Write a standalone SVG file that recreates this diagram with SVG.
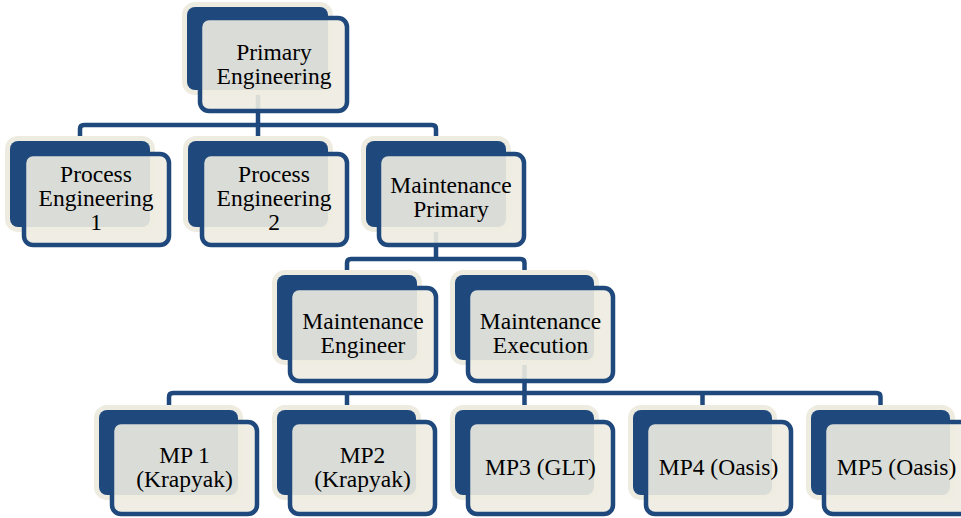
<svg xmlns="http://www.w3.org/2000/svg" width="961" height="518" viewBox="0 0 961 518">
  <style>
    .back { fill: #1F497D; stroke: #EEECE1; stroke-width: 10; paint-order: stroke; }
    .front { fill: #EEECE1; fill-opacity: 0.9; stroke: #1F497D; stroke-width: 4.5; }
    .link { fill: none; stroke: #1F497D; stroke-width: 4.5; }
    .label { font-family: 'Liberation Serif', 'DejaVu Serif', 'Times New Roman', serif; font-size: 23.5px; fill: #000000; text-anchor: middle; }
  </style>
  <rect width="961" height="518" fill="#FFFFFF"/>

  <!-- connectors (drawn first so the node cards sit on top) -->
  <g id="connectors">
    <path class="link" d="M258,60 V125"/>
    <path class="link" d="M80,137 V129 Q80,125 84,125 H432 Q436,125 436,129 V137 M258,125 V137"/>
    <path class="link" d="M436,200 V259"/>
    <path class="link" d="M347,271 V263 Q347,259 351,259 H520.5 Q524.5,259 524.5,263 V271"/>
    <path class="link" d="M524.5,330 V393"/>
    <path class="link" d="M169,406 V397 Q169,393 173,393 H876.5 Q880.5,393 880.5,397 V406 M347,393 V406 M524.5,393 V406 M702.5,393 V406"/>
  </g>

  <g id="primary-engineering">
    <rect class="back" x="187" y="7" width="141" height="83" rx="8"/>
    <rect class="front" x="200" y="18" width="147" height="93" rx="9"/>
    <text class="label" x="274" y="59.5">Primary</text>
    <text class="label" x="274" y="83.5">Engineering</text>
  </g>

  <g id="process-engineering-1">
    <rect class="back" x="10" y="141" width="140" height="86" rx="8"/>
    <rect class="front" x="24" y="154" width="145" height="91" rx="9"/>
    <text class="label" x="96" y="181.5">Process</text>
    <text class="label" x="96" y="205.5">Engineering</text>
    <text class="label" x="96" y="229.5">1</text>
  </g>

  <g id="process-engineering-2">
    <rect class="back" x="188" y="141" width="140" height="86" rx="8"/>
    <rect class="front" x="202" y="154" width="145" height="91" rx="9"/>
    <text class="label" x="274" y="181.5">Process</text>
    <text class="label" x="274" y="205.5">Engineering</text>
    <text class="label" x="274" y="229.5">2</text>
  </g>

  <g id="maintenance-primary">
    <rect class="back" x="366" y="141" width="140" height="86" rx="8"/>
    <rect class="front" x="379" y="154" width="145" height="91" rx="9"/>
    <text class="label" x="451" y="193">Maintenance</text>
    <text class="label" x="451" y="217">Primary</text>
  </g>

  <g id="maintenance-engineer">
    <rect class="back" x="277" y="275" width="140" height="85" rx="8"/>
    <rect class="front" x="290" y="288" width="146" height="93" rx="9"/>
    <text class="label" x="363" y="329">Maintenance</text>
    <text class="label" x="363" y="353">Engineer</text>
  </g>

  <g id="maintenance-execution">
    <rect class="back" x="455" y="275" width="139" height="85" rx="8"/>
    <rect class="front" x="468" y="288" width="145" height="93" rx="9"/>
    <text class="label" x="540.5" y="329">Maintenance</text>
    <text class="label" x="540.5" y="353">Execution</text>
  </g>

  <g id="mp1">
    <rect class="back" x="99" y="410" width="139" height="85" rx="8"/>
    <rect class="front" x="112" y="422" width="145" height="92" rx="9"/>
    <text class="label" x="184.5" y="463">MP 1</text>
    <text class="label" x="184.5" y="487">(Krapyak)</text>
  </g>

  <g id="mp2">
    <rect class="back" x="277" y="410" width="139" height="85" rx="8"/>
    <rect class="front" x="290" y="422" width="145" height="92" rx="9"/>
    <text class="label" x="362.5" y="463">MP2</text>
    <text class="label" x="362.5" y="487">(Krapyak)</text>
  </g>

  <g id="mp3">
    <rect class="back" x="455" y="410" width="139" height="85" rx="8"/>
    <rect class="front" x="468" y="422" width="145" height="92" rx="9"/>
    <text class="label" x="540.5" y="475">MP3 (GLT)</text>
  </g>

  <g id="mp4">
    <rect class="back" x="633" y="410" width="139" height="85" rx="8"/>
    <rect class="front" x="646" y="422" width="145" height="92" rx="9"/>
    <text class="label" x="718.5" y="475">MP4 (Oasis)</text>
  </g>

  <g id="mp5">
    <rect class="back" x="811" y="410" width="139" height="85" rx="8"/>
    <rect class="front" x="824" y="422" width="145" height="92" rx="9"/>
    <text class="label" x="896.5" y="475">MP5 (Oasis)</text>
  </g>
</svg>
